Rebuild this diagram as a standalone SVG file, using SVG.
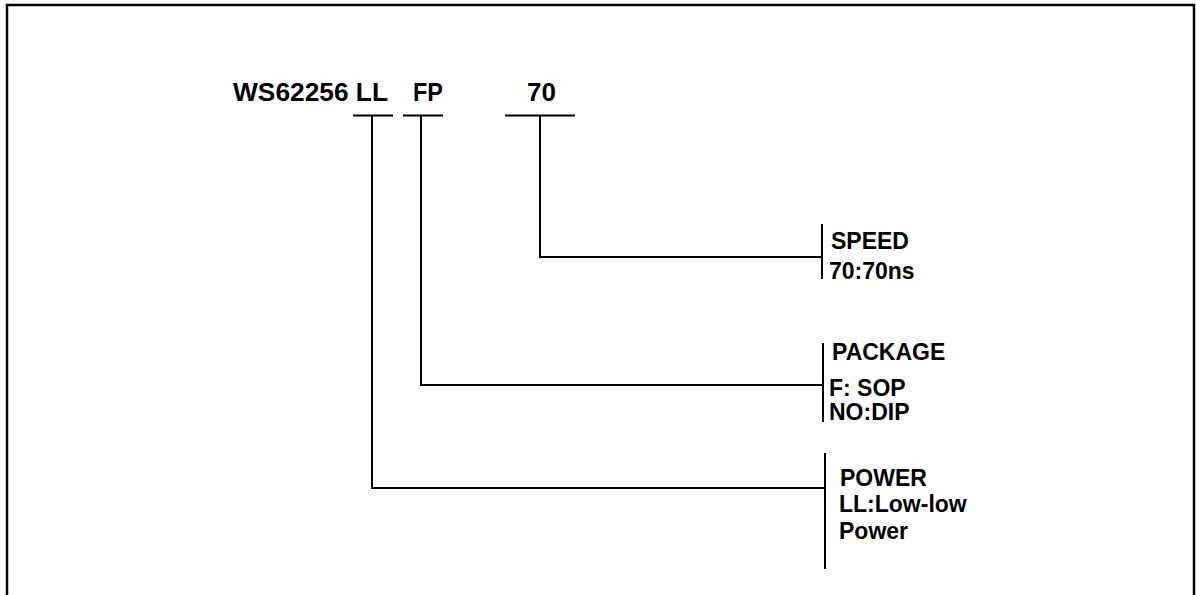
<svg xmlns="http://www.w3.org/2000/svg" width="1196" height="595" viewBox="0 0 1196 595">
<style>
.t{font-family:"Liberation Sans",Arial,sans-serif;font-weight:bold;fill:#000}
.h{font-size:26px}
.l{font-size:23px}
.ln{stroke:#000;stroke-width:2;fill:none}
.fr{stroke:#000;stroke-width:2.5;fill:none}
</style>
<rect width="1196" height="595" fill="#fff"/>
<path class="fr" d="M7,595 V5 H1194 V595"/>
<g id="title">
<text class="t h" x="233" y="101" textLength="155" lengthAdjust="spacingAndGlyphs">WS62256 LL</text>
<text class="t h" x="413" y="101" textLength="30" lengthAdjust="spacingAndGlyphs">FP</text>
<text class="t h" x="527" y="101">70</text>
</g>
<g id="connectors">
<path class="ln" d="M353,115.5 H393 M372,115.5 V488 H825"/>
<path class="ln" d="M403,115.5 H443 M421,115.5 V385 H823"/>
<path class="ln" d="M505,115.5 H575 M540,115.5 V257 H822"/>
</g>
<g id="speed">
<path class="ln" d="M822,224 V279"/>
<text class="t l" x="831" y="249">SPEED</text>
<text class="t l" x="829" y="279">70:70ns</text>
</g>
<g id="package">
<path class="ln" d="M823,343 V422"/>
<text class="t l" x="832" y="360">PACKAGE</text>
<text class="t l" x="829" y="396">F: SOP</text>
<text class="t l" x="829" y="420">NO:DIP</text>
</g>
<g id="power">
<path class="ln" d="M825,453 V569"/>
<text class="t l" x="840" y="486">POWER</text>
<text class="t l" x="839" y="512">LL:Low-low</text>
<text class="t l" x="839" y="539">Power</text>
</g>
</svg>
